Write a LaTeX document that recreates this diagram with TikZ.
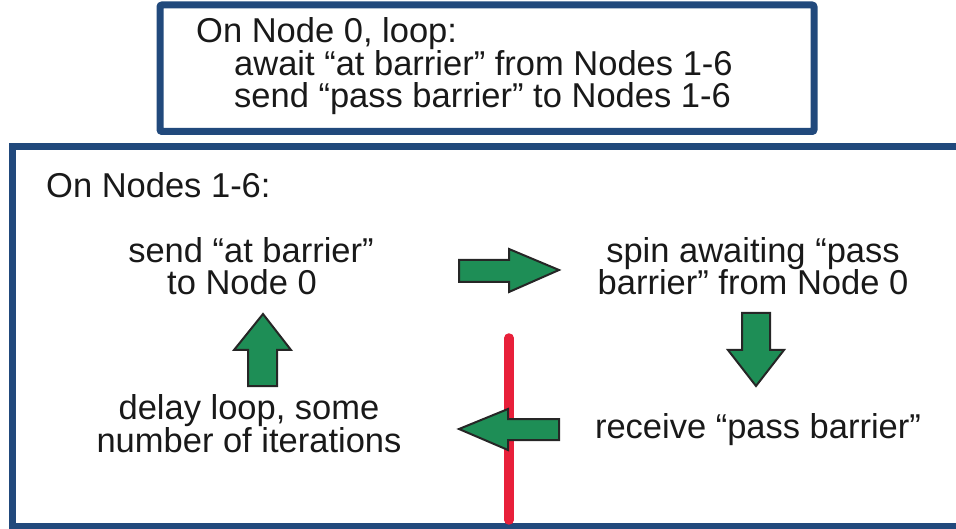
\documentclass[tikz,border=0pt]{standalone}
\usepackage{fontspec}
\setmainfont{Liberation Sans}
\definecolor{boxblue}{HTML}{21497C}
\definecolor{arrgreen}{HTML}{1E8E56}
\definecolor{barred}{HTML}{E8203A}
\begin{document}
\begin{tikzpicture}[x=1pt,y=-1pt,
  frame/.style={draw=boxblue,line width=7pt},
  blockarrow/.style={draw=black!85,fill=arrgreen,line width=2pt,line join=miter},
  txt/.style={inner sep=0pt,font=\fontsize{34.5}{32.5}\selectfont,text=black!90},
]
\useasboundingbox (0,0) rectangle (956,529);
\begin{scope}
\clip (0,0) rectangle (956,529);
% boxes
\draw[frame,rounded corners=2pt] (160,5) rectangle (814,131.5);
\draw[frame,line join=miter] (12.5,147) rectangle (975,526);
\end{scope}
% top box text
\node[txt,anchor=base west,align=left] (node0) at (196,108)
  {On Node 0, loop:\\\hspace*{38pt}await “at barrier” from Nodes 1-6\\\hspace*{38pt}send “pass barrier” to Nodes 1-6};
% bottom box texts
\node[txt,anchor=base west] (nodes) at (46,198) {On Nodes 1-6:};
\node[txt,anchor=base,align=center] (send) at (251,295) {send “at barrier”\\to Node 0\hspace*{18pt}};
\node[txt,anchor=base,align=center] (spin) at (753,295) {spin awaiting “pass\\barrier” from Node 0};
\node[txt,anchor=base,align=center] (delay) at (249,452) {delay loop, some\\number of iterations};
\node[txt,anchor=base] (recv) at (758,438) {receive “pass barrier”};
% red barrier line
\draw[barred,line width=9.5pt,line cap=round] (509,338) coordinate (bt) -- (509,520) coordinate (bb);
% block arrows
\draw[blockarrow] (459,260) -- (509,260) -- (509,249) -- (559,270) -- (509,292) -- (509,282) -- (459,282) -- cycle;
\draw[blockarrow] (742,313) -- (770,313) -- (770,350) -- (784,350) -- (756,386) -- (728,350) -- (742,350) -- cycle;
\draw[blockarrow] (559,419) -- (508,419) -- (508,409) -- (459,429) -- (508,450) -- (508,440) -- (559,440) -- cycle;
\draw[blockarrow] (248,386) -- (248,350) -- (234,350) -- (263,314) -- (291,350) -- (277,350) -- (277,386) -- cycle;
\end{tikzpicture}
\end{document}
